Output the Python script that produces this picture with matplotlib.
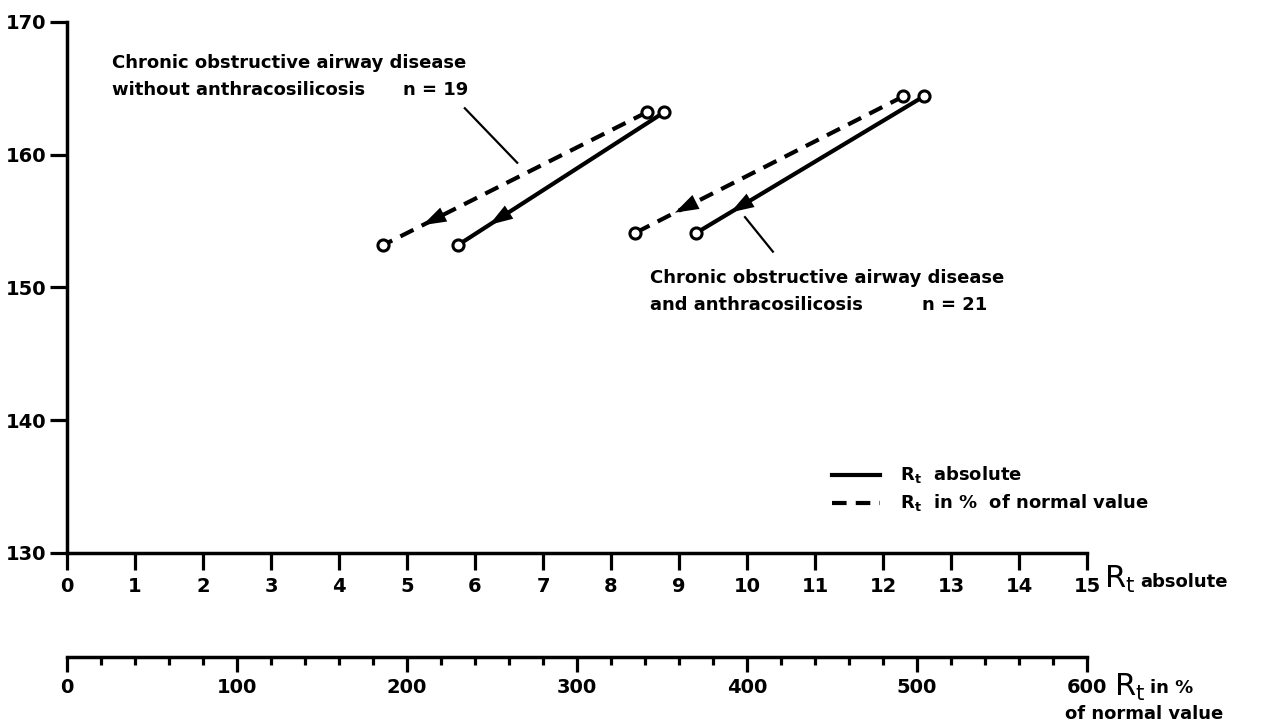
import matplotlib.pyplot as plt

plt.rcParams['font.family'] = ['DejaVu Sans']
plt.rcParams['font.weight'] = 'bold'
plt.rcParams['mathtext.default'] = 'regular'

# y value at the start (upper end) and the end (lower end) of each arrow
without_y = [163.2, 153.2]
with_y = [164.4, 154.1]

# Rt absolute
without_abs = [8.78, 5.75]
with_abs = [12.6, 9.25]

# Rt in % of normal value
without_pct = [341, 186]
with_pct = [492, 334]

PCT_PER_ABS = 40  # 600 % sits under 15 absolute

fig = plt.figure(figsize=(12.72, 7.26), dpi=100)
ax = fig.add_axes([0.0527, 0.2383, 0.8019, 0.7314])
ax.set_xlim(0, 15)
ax.set_ylim(130, 170)

for s in ['top', 'right']:
    ax.spines[s].set_visible(False)
for s in ['left', 'bottom']:
    ax.spines[s].set_linewidth(2.5)

ax.set_xticks(range(0, 16))
ax.set_yticks(range(130, 171, 10))
ax.tick_params(axis='both', direction='out', length=12, width=2.3, labelsize=14)
ax.tick_params(axis='x', pad=5)
ax.tick_params(axis='y', pad=3)

# second scale: Rt in % of normal value
sec = ax.secondary_xaxis(-0.196, functions=(lambda x: x * PCT_PER_ABS,
                                            lambda p: p / PCT_PER_ABS))
sec.set_xticks(range(0, 601, 100))
sec.set_xticks(range(0, 601, 20), minor=True)
sec.spines['bottom'].set_linewidth(2.5)
sec.tick_params(axis='x', which='major', direction='out', length=11, width=2.3,
                labelsize=14, pad=4)
sec.tick_params(axis='x', which='minor', direction='out', length=6, width=2.3)


def draw(xs, ys, ls):
    line, = ax.plot(xs, ys, color='black', lw=3, linestyle=ls, marker='o',
                    mfc='white', mec='black', ms=8, mew=2.2, zorder=3)
    if ls == '--':
        line.set_dashes((3.5, 2.2))
    # arrowhead near the lower end, pointing down-left
    f, g = 0.14, 0.24
    hx = xs[1] + (xs[0] - xs[1]) * f
    hy = ys[1] + (ys[0] - ys[1]) * f
    tx = xs[1] + (xs[0] - xs[1]) * g
    ty = ys[1] + (ys[0] - ys[1]) * g
    ax.annotate('', xy=(hx, hy), xytext=(tx, ty),
                arrowprops=dict(arrowstyle='-|>,head_length=1.0,head_width=0.33',
                                color='black', lw=0, mutation_scale=17),
                zorder=4)


draw(without_abs, without_y, '-')
draw([p / PCT_PER_ABS for p in without_pct], without_y, '--')
draw(with_abs, with_y, '-')
draw([p / PCT_PER_ABS for p in with_pct], with_y, '--')

# leader lines to the group labels
ax.plot([5.85, 6.62], [163.5, 159.4], color='black', lw=1.6)
ax.plot([9.97, 10.38], [155.3, 152.7], color='black', lw=1.6)

tkw = dict(fontsize=13, va='center', ha='left')
ax.text(0.66, 166.9, 'Chronic obstructive airway disease', **tkw)
ax.text(0.66, 164.9, 'without anthracosilicosis', **tkw)
ax.text(4.94, 164.9, 'n = 19', **tkw)
ax.text(8.57, 150.75, 'Chronic obstructive airway disease', **tkw)
ax.text(8.57, 148.7, 'and anthracosilicosis', **tkw)
ax.text(12.57, 148.7, 'n = 21', **tkw)

# legend
ax.plot([11.25, 11.96], [135.9, 135.9], color='black', lw=3)
ax.plot([11.25, 11.96], [133.8, 133.8], color='black', lw=3, dashes=(3.5, 2.2))
ax.text(12.25, 135.9, r'R$_t$  absolute', **tkw)
ax.text(12.25, 133.8, r'R$_t$  in %  of normal value', **tkw)

# axis captions
ax.text(15.25, 128.0, 'R$_t$', fontsize=22, fontweight='normal', va='center',
        ha='left', clip_on=False)
ax.text(15.78, 127.8, 'absolute', fontsize=13, va='center', ha='left', clip_on=False)
ax.text(15.4, 119.9, 'R$_t$', fontsize=22, fontweight='normal', va='center',
        ha='left', clip_on=False)
ax.text(15.93, 119.8, 'in %', fontsize=13, va='center', ha='left', clip_on=False)
ax.text(17.0, 117.9, 'of normal value', fontsize=13, va='center', ha='right',
        clip_on=False)

fig.savefig('out.png', dpi=100)
